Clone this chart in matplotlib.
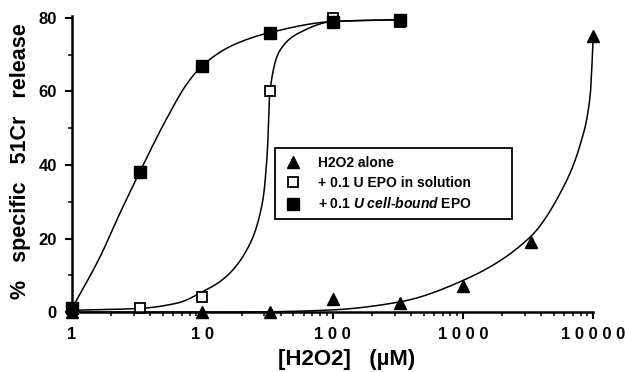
"""Specific 51Cr release vs H2O2 concentration, with and without EPO."""

import matplotlib
matplotlib.use("Agg")
import matplotlib.pyplot as plt
import numpy as np
from matplotlib.ticker import FixedLocator, LogLocator, NullFormatter

h2o2_alone_x = [1, 10, 33, 100, 330, 1000, 3300, 10000]
h2o2_alone_y = [0, 0, 0, 3.5, 2.5, 7, 19, 75]

epo_solution_x = [1, 3.3, 10, 33, 100, 330]
epo_solution_y = [1, 1, 4, 60, 80, 79]

epo_bound_x = [1, 3.3, 10, 33, 100, 330]
epo_bound_y = [1, 38, 67, 76, 79, 79.5]

# --- hand-drawn fit curves, knots -----------------------------------------------
fit_alone_x = [1, 10, 33, 100, 330, 1000, 3300, 5900, 7950, 9480, 10000]
fit_alone_y = [0, 0, 0.1, 0.6, 2.8, 8.6, 20.5, 34, 45.6, 59, 75]

fit_solution_x = [1, 3.3, 6.5, 10, 14.5, 22, 29, 31.6, 33, 40, 56, 100, 330]
fit_solution_y = [0.5, 1, 2.5, 5.5, 9, 17, 30, 44, 60, 71.5, 76, 79, 79.5]

fit_bound_x = [1, 1.64, 2.34, 3.3, 5.4, 7.6, 10, 17, 33, 100, 330]
fit_bound_y = [1, 15, 27, 38, 53, 62, 67, 72.5, 76, 79, 79.5]

y_ticks = [0, 20, 40, 60, 80]
x_ticks = [1, 10, 100, 1000, 10000]
x_tick_labels = ["1", "1 0", "1 0 0", "1 0 0 0", "1 0 0 0 0"]

FONT = ["Liberation Sans", "DejaVu Sans"]


def pchip(x, y, xs):
    """Monotone cubic (Fritsch-Carlson) through the knots."""
    x = np.asarray(x, float)
    y = np.asarray(y, float)
    h = np.diff(x)
    d = np.diff(y) / h
    m = np.zeros_like(y)
    for k in range(1, len(x) - 1):
        if d[k - 1] * d[k] > 0:
            w1 = 2 * h[k] + h[k - 1]
            w2 = h[k] + 2 * h[k - 1]
            m[k] = (w1 + w2) / (w1 / d[k - 1] + w2 / d[k])
    m[0] = d[0]
    m[-1] = d[-1]
    idx = np.clip(np.searchsorted(x, xs) - 1, 0, len(x) - 2)
    t = (xs - x[idx]) / h[idx]
    h00 = 2 * t**3 - 3 * t**2 + 1
    h10 = t**3 - 2 * t**2 + t
    h01 = -2 * t**3 + 3 * t**2
    h11 = t**3 - t**2
    return (h00 * y[idx] + h10 * h[idx] * m[idx]
            + h01 * y[idx + 1] + h11 * h[idx] * m[idx + 1])


def smooth_line(ax, xs_, ys_):
    lx = np.log10(xs_)
    grid = np.linspace(lx[0], lx[-1], 400)
    ax.plot(10**grid, pchip(lx, ys_, grid), color="black", lw=1.1,
            clip_on=False)


def main() -> None:
    plt.rcParams["font.family"] = FONT
    plt.rcParams["font.weight"] = "bold"
    plt.rcParams["mathtext.fontset"] = "custom"
    plt.rcParams["mathtext.bfit"] = "Liberation Sans:italic:bold"

    fig = plt.figure(figsize=(6.25, 3.72), dpi=100)
    ax = fig.add_axes([0.1152, 0.161, 0.834, 0.796])

    smooth_line(ax, fit_bound_x, fit_bound_y)
    smooth_line(ax, fit_solution_x, fit_solution_y)
    smooth_line(ax, fit_alone_x, fit_alone_y)

    ax.plot(h2o2_alone_x, h2o2_alone_y, ls="none", marker="^", ms=8,
            color="black", clip_on=False, label="H2O2 alone")
    ax.plot(epo_solution_x, epo_solution_y, ls="none", marker="s", ms=7,
            mfc="white", mec="black", mew=1.3, clip_on=False,
            label="+ 0.1 U EPO in solution")
    ax.plot(epo_bound_x, epo_bound_y, ls="none", marker="s", ms=8,
            color="black", clip_on=False,
            label=r"+ 0.1 $\mathbfit{U}$ $\mathbfit{cell}$-$\mathbfit{bound}$ EPO")

    ax.set_xscale("log")
    ax.set_xlim(1, 10000)
    ax.set_ylim(0, 80.5)
    ax.spines["top"].set_visible(False)
    ax.spines["right"].set_visible(False)
    for s in ("left", "bottom"):
        ax.spines[s].set_linewidth(1.8)

    ax.xaxis.set_major_locator(FixedLocator(x_ticks))
    ax.set_xticklabels(x_tick_labels)
    ax.xaxis.set_minor_locator(LogLocator(base=10, subs=np.arange(2, 10)))
    ax.xaxis.set_minor_formatter(NullFormatter())
    ax.set_yticks(y_ticks)
    ax.set_yticks([10, 30, 50, 70], minor=True)
    ax.tick_params(axis="both", which="major", length=5, width=1.5,
                   labelsize=12, pad=6)
    ax.tick_params(axis="both", which="minor", length=3, width=1.1)
    for lab in ax.get_xticklabels() + ax.get_yticklabels():
        lab.set_fontweight("bold")

    ax.set_ylabel("%   specific   51Cr   release", fontsize=15.5,
                  fontweight="bold")
    ax.yaxis.set_label_coords(-0.079, 0.51)
    ax.set_xlabel("[H2O2]   (\u00b5M)", fontsize=16, fontweight="bold")
    ax.xaxis.set_label_coords(0.526, -0.125)

    leg = ax.legend(loc="upper left", bbox_to_anchor=(0.3896, 0.553, 0.455, 0.0),
                    mode="expand", borderaxespad=0,
                    prop={"size": 10, "weight": "bold"}, fancybox=False,
                    framealpha=1, edgecolor="black", handlelength=1.5,
                    handletextpad=1.05, borderpad=0.55, labelspacing=0.45)
    leg.get_frame().set_linewidth(1.3)

    fig.savefig("out.png", dpi=100)
    plt.close(fig)


if __name__ == "__main__":
    main()
